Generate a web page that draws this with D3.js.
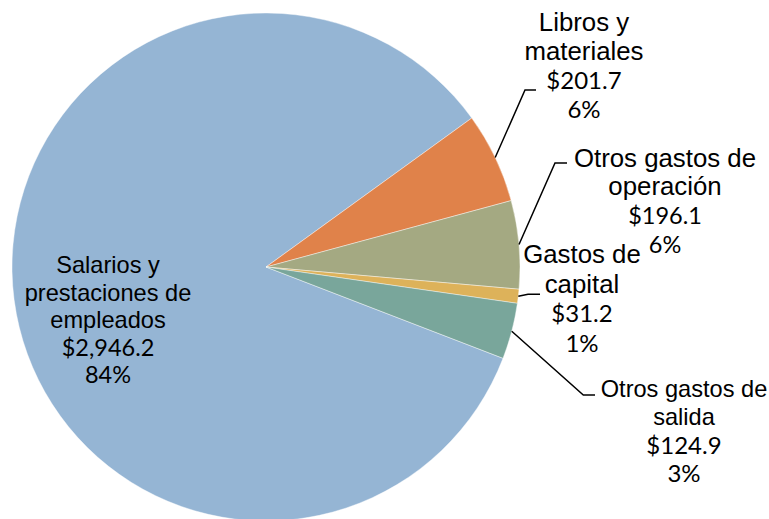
<!DOCTYPE html>
<html>
<head>
<meta charset="utf-8">
<script src="https://cdn.jsdelivr.net/npm/d3@7"></script>
<style>
  html, body { margin: 0; padding: 0; background: #fff; }
  svg { display: block; }
</style>
</head>
<body>
<svg id="chart" width="769" height="519"></svg>
<script>
// ---- Data ----
const categories = ["Salarios y prestaciones de empleados", "Libros y materiales", "Otros gastos de operación", "Gastos de capital", "Otros gastos de salida"];
const values = [2946.2, 201.7, 196.1, 31.2, 124.9];
const valueLabels = ["$2,946.2", "$201.7", "$196.1", "$31.2", "$124.9"];
const percentLabels = ["84%", "6%", "6%", "1%", "3%"];
const nameLines = [
  ["Salarios y", "prestaciones de", "empleados"],
  ["Libros y", "materiales"],
  ["Otros gastos de", "operación"],
  ["Gastos de", "capital"],
  ["Otros gastos de", "salida"]
];

// ---- Styles / layout ----
const colors = ["#95B5D4", "#E0824A", "#A4A982", "#DDB25A", "#79A69B"];
const cx = 266, cy = 267, R = 254;
const startDeg = 111.07;
// label layout: center x, first baseline y, line spacing, font sizes, leader elbow
const labelLayout = [
  { x: 108, y: 273, dy: 27.6, fs: 23.6, nfs: 23.5, leader: null },
  { x: 584, y: 30.5, dy: 29.2, fs: 25.8, nfs: 24, leader: [[525, 90], [536, 90]] },
  { x: 665, y: 166.5, dy: 28.8, fs: 25.8, nfs: 23.5, leader: [[555, 163], [567, 163]] },
  { x: 582, y: 263, dy: 29.5, fs: 25.8, nfs: 24, leader: [[528, 294.3], [540, 294.3]] },
  { x: 684, y: 396.5, dy: 28.5, fs: 23.6, nfs: 24, leader: [[583.3, 395], [595, 395]] }
];
const nameFont = "'Liberation Sans', Arial, sans-serif";
const numFont = "Lato, 'Noto Sans', sans-serif";

const svg = d3.select("#chart");
const rad = d => d * Math.PI / 180;

const pie = d3.pie().sort(null).value(d => d)
  .startAngle(rad(startDeg)).endAngle(rad(startDeg) + 2 * Math.PI);
const arcs = pie(values);
const arc = d3.arc().innerRadius(0).outerRadius(R);

const g = svg.append("g").attr("transform", `translate(${cx},${cy})`);
g.selectAll("path.slice").data(arcs).enter().append("path")
  .attr("class", "slice")
  .attr("d", arc)
  .attr("fill", (d, i) => colors[i])
  .attr("stroke", "#ffffff")
  .attr("stroke-opacity", 0.6)
  .attr("stroke-width", 0.7);

// leader lines
arcs.forEach((a, i) => {
  const L = labelLayout[i];
  if (!L.leader) return;
  const mid = (a.startAngle + a.endAngle) / 2;
  const p0 = [cx + R * Math.sin(mid), cy - R * Math.cos(mid)];
  const pts = [p0].concat(L.leader);
  svg.append("path")
    .attr("d", d3.line()(pts))
    .attr("fill", "none")
    .attr("stroke", "#000")
    .attr("stroke-width", 1.5);
});

// labels
categories.forEach((c, i) => {
  const L = labelLayout[i];
  const t = svg.append("text").attr("text-anchor", "middle").attr("fill", "#000");
  const lines = nameLines[i];
  lines.forEach((ln, k) => {
    t.append("tspan").attr("x", L.x).attr("y", L.y + k * L.dy)
      .style("font-family", nameFont).style("font-size", L.fs + "px").text(ln);
  });
  const n = lines.length;
  t.append("tspan").attr("x", L.x).attr("y", L.y + n * L.dy)
    .style("font-family", numFont).style("font-size", L.nfs + "px").text(valueLabels[i]);
  t.append("tspan").attr("x", L.x).attr("y", L.y + (n + 1) * L.dy)
    .style("font-family", numFont).style("font-size", L.nfs + "px").text(percentLabels[i]);
});
</script>
</body>
</html>
